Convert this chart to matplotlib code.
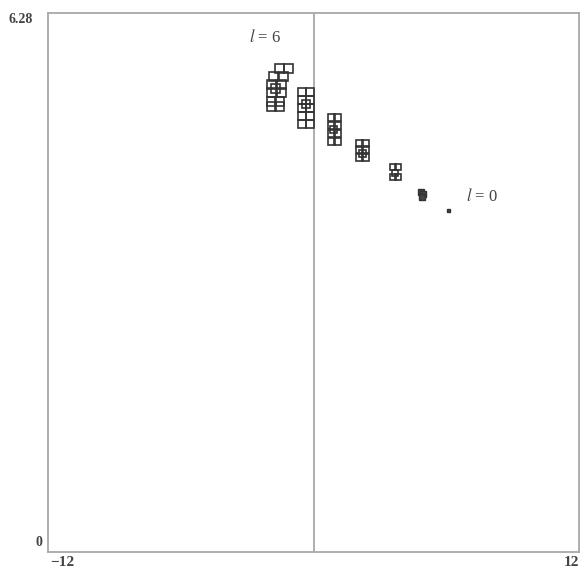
import numpy as np
import matplotlib
matplotlib.use("Agg")
from matplotlib import pyplot as plt

plt.rcParams["mathtext.fontset"] = "stix"

# clusters of levels, one per l value
l_values = [0, 1, 2, 3, 4, 5, 6]
x_points = [
    [6.09],
    [4.87, 4.96, 4.91],
    [3.61, 3.83, 3.70, 3.61, 3.83],
    [2.07, 2.34, 2.07, 2.34, 2.07, 2.34, 2.21],
    [0.77, 1.04, 0.77, 1.04, 0.77, 1.04, 0.77, 1.04, 0.90],
    [-0.54, -0.18, -0.54, -0.18, -0.54, -0.18, -0.54, -0.18, -0.54, -0.18, -0.36],
    [-1.58, -1.17, -1.81, -1.40, -1.90, -1.49, -1.90, -1.49, -1.94, -1.54, -1.94, -1.54, -1.72],
]
y_points = [
    [3.99],
    [4.20, 4.17, 4.14],
    [4.48, 4.48, 4.42, 4.37, 4.37],
    [4.77, 4.77, 4.69, 4.69, 4.60, 4.60, 4.65],
    [5.07, 5.07, 4.98, 4.98, 4.88, 4.88, 4.79, 4.79, 4.93],
    [5.36, 5.36, 5.27, 5.27, 5.17, 5.17, 5.08, 5.08, 4.99, 4.99, 5.22],
    [5.64, 5.64, 5.55, 5.55, 5.45, 5.45, 5.36, 5.36, 5.26, 5.26, 5.20, 5.20, 5.41],
]
marker_px = [3, 6, 6, 7, 7, 8, 9]

x_min, x_max = -12, 12
y_min, y_max = 0, 6.28

fig = plt.figure(figsize=(5.84, 5.84), dpi=100)
ax = fig.add_axes([48 / 584, 32 / 584, 531 / 584, 539 / 584])
ax.set_xlim(x_min, x_max)
ax.set_ylim(y_min, y_max)
ax.set_xticks([])
ax.set_yticks([])
for s in ax.spines.values():
    s.set_color("#a8a8a8")
    s.set_linewidth(1.3)

ax.axvline(0, color="#a8a8a8", lw=1.3)

for l, xs, ys, m in zip(l_values, x_points, y_points, marker_px):
    ms = m * 72 / 100
    if l <= 1:
        ax.plot(xs, ys, "s", ms=ms, color="#444444", mec="#333333", ls="none")
    else:
        ax.plot(xs, ys, "s", ms=ms, mfc="none", mec="#333333", mew=1.2, ls="none")

serif = ["Liberation Serif", "DejaVu Serif"]
ax.text(-2.2, 5.99, r"$l$ = 6", family=serif, fontsize=12, ha="center", va="center", color="#444444")
ax.text(7.6, 4.14, r"$l$ = 0", family=serif, fontsize=12, ha="center", va="center", color="#444444")

# tick labels, placed the way the reference does it
ax.text(-0.028, 1.0, "6.28", transform=ax.transAxes, family=serif, fontsize=10,
        ha="right", va="top", fontweight="bold", color="#444444")
ax.text(-0.01, 0.005, "0", transform=ax.transAxes, family=serif, fontsize=10,
        ha="right", va="bottom", fontweight="bold", color="#444444")
ax.text(0.004, -0.008, "\u221212", transform=ax.transAxes, family=serif, fontsize=11,
        ha="left", va="top", fontweight="bold", color="#444444")
ax.text(1.0, -0.008, "12", transform=ax.transAxes, family=serif, fontsize=11,
        ha="right", va="top", fontweight="bold", color="#444444")

fig.savefig("out.png", dpi=100)
